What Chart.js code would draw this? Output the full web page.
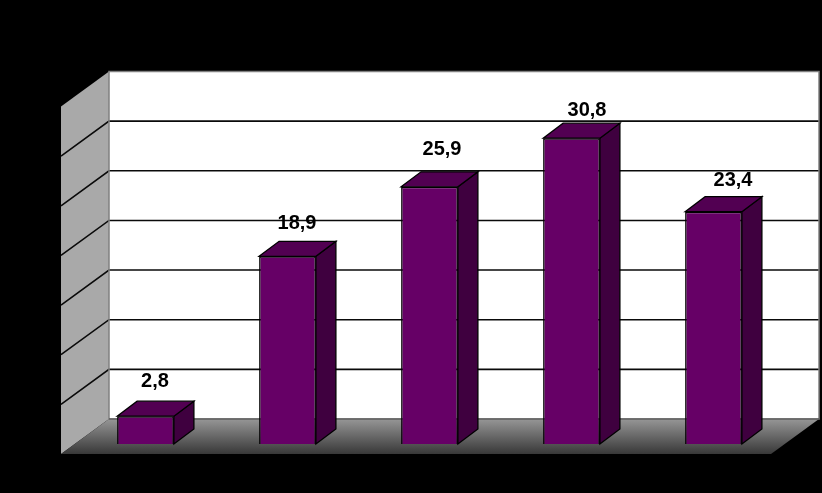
<!DOCTYPE html>
<html>
<head>
<meta charset="utf-8">
<style>
  html, body { margin: 0; padding: 0; background: #000; }
  canvas { display: block; }
</style>
<script src="https://cdn.jsdelivr.net/npm/chart.js@4"></script>
</head>
<body>
<canvas id="chart" width="822" height="493"></canvas>
<script>
const categories = ['1', '2', '3', '4', '5'];
const values = [2.8, 18.9, 25.9, 30.8, 23.4];
const valueLabels = ['2,8', '18,9', '25,9', '30,8', '23,4'];
const yTicks = [0, 5, 10, 15, 20, 25, 30, 35];

// the source places its labels unevenly, so each one gets its own nudge
const labelLift = [35, 33, 37, 28, 31];
const labelShift = [0, 0, 3, 6, 10];

// 3D offsets, relative to the plane the bar fronts stand on
const back = { dx: 34.5, dy: -25 };
const front = { dx: -13.5, dy: 10 };
const barDepth = { dx: 20, dy: -15 };

function poly(ctx, pts, fill, stroke, width) {
  ctx.beginPath();
  pts.forEach((p, i) => i ? ctx.lineTo(p[0], p[1]) : ctx.moveTo(p[0], p[1]));
  ctx.closePath();
  ctx.fillStyle = fill;
  ctx.fill();
  if (stroke) {
    ctx.strokeStyle = stroke;
    ctx.lineWidth = width || 1;
    ctx.stroke();
  }
}

const box3d = {
  id: 'box3d',
  beforeDatasetsDraw(chart) {
    const { ctx, chartArea: a, scales: { y } } = chart;
    const y0 = y.getPixelForValue(0);
    const yTop = y.getPixelForValue(35);
    const bl = a.left + back.dx, br = a.right + back.dx;
    const fl = a.left + front.dx, fr = a.right + front.dx;

    // back wall
    poly(ctx, [[bl, yTop + back.dy], [br, yTop + back.dy], [br, y0 + back.dy], [bl, y0 + back.dy]], '#ffffff', null);

    // side wall
    poly(ctx, [[fl, yTop + front.dy], [bl, yTop + back.dy], [bl, y0 + back.dy], [fl, y0 + front.dy]], '#a9a9a9', null);

    // grid lines run along the side wall then across the back wall
    ctx.strokeStyle = '#0a0a0a';
    ctx.lineWidth = 1.6;
    yTicks.slice(1, -1).forEach(t => {
      const p = y.getPixelForValue(t);
      ctx.beginPath();
      ctx.moveTo(fl, p + front.dy);
      ctx.lineTo(bl, p + back.dy);
      ctx.lineTo(br, p + back.dy);
      ctx.stroke();
    });

    // gray frame of the back wall goes over the grid line ends
    ctx.strokeStyle = '#808080';
    ctx.lineWidth = 1.5;
    ctx.strokeRect(bl, yTop + back.dy, br - bl, y0 - yTop);

    // floor
    const grad = ctx.createLinearGradient(0, y0 + back.dy, 0, y0 + front.dy);
    grad.addColorStop(0, '#969696');
    grad.addColorStop(1, '#383838');
    poly(ctx, [[bl, y0 + back.dy], [br, y0 + back.dy], [fr, y0 + front.dy], [fl, y0 + front.dy]], grad, null);
    ctx.strokeStyle = '#404040';
    ctx.lineWidth = 1.2;
    ctx.beginPath();
    ctx.moveTo(bl, y0 + back.dy);
    ctx.lineTo(br, y0 + back.dy);
    ctx.stroke();
  },
  afterDatasetsDraw(chart) {
    const { ctx } = chart;
    const bars = chart.getDatasetMeta(0).data;
    bars.forEach((bar, i) => {
      const l = bar.x - bar.width / 2, r = bar.x + bar.width / 2;
      const t = bar.y, b = bar.base;
      const dx = barDepth.dx, dy = barDepth.dy;
      poly(ctx, [[r, t], [r + dx, t + dy], [r + dx, b + dy], [r, b]], '#3f003f', '#000000', 1.3);
      poly(ctx, [[l, t], [l + dx, t + dy], [r + dx, t + dy], [r, t]], '#520052', '#000000', 1.3);

      ctx.fillStyle = '#000000';
      ctx.font = 'bold 20px "Liberation Sans", Arial, sans-serif';
      ctx.textAlign = 'center';
      ctx.textBaseline = 'middle';
      ctx.fillText(valueLabels[i], bar.x + 9.5 + labelShift[i], t - labelLift[i]);
    });
  }
};

new Chart(document.getElementById('chart'), {
  type: 'bar',
  data: {
    labels: categories,
    datasets: [{
      data: values,
      backgroundColor: '#660066',
      borderColor: '#000000',
      borderWidth: 1.5,
      barPercentage: 0.4,
      categoryPercentage: 1
    }]
  },
  options: {
    responsive: false,
    animation: false,
    layout: { padding: { left: 74.5, right: 37.5, top: 96.5, bottom: 49 } },
    plugins: { legend: { display: false }, tooltip: { enabled: false } },
    scales: {
      x: { display: false },
      y: { display: false, min: 0, max: 35, ticks: { stepSize: 5 } }
    }
  },
  plugins: [box3d]
});
</script>
</body>
</html>
